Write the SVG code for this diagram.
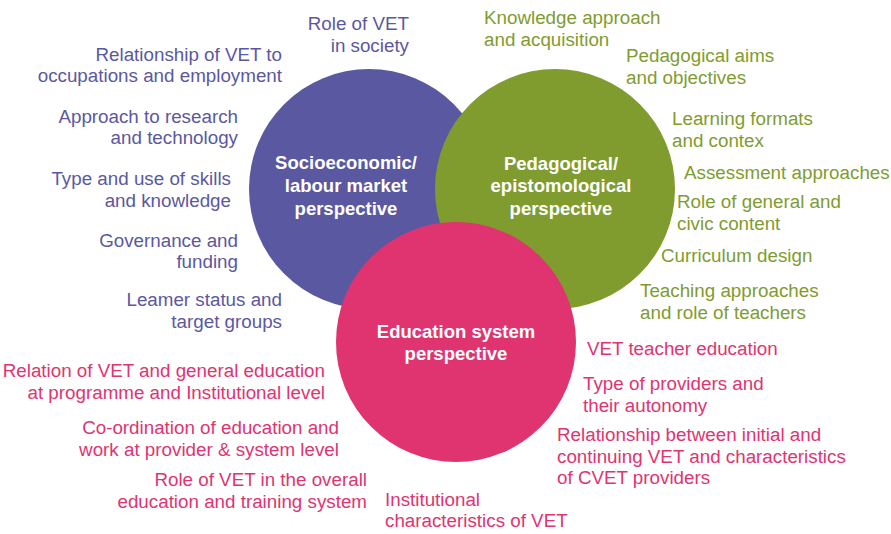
<svg xmlns="http://www.w3.org/2000/svg" width="891" height="534" viewBox="0 0 891 534">
<style>
text{font-family:"Liberation Sans",Arial,sans-serif;font-size:18.8px}
.p{fill:#5b58a2}.g{fill:#809c2f}.k{fill:#e03471}
.r{text-anchor:end}
.w{fill:#ffffff;font-weight:bold;text-anchor:middle;font-size:18.5px}
</style>
<rect width="891" height="534" fill="#ffffff"/>
<g id="socioeconomic">
<circle cx="369" cy="189" r="120" fill="#5b58a2"/>
<text class="w" x="346" y="169">Socioeconomic/</text>
<text class="w" x="346" y="192">labour market</text>
<text class="w" x="346" y="215">perspective</text>
</g>
<g id="pedagogical">
<circle cx="555" cy="189" r="120" fill="#809c2f"/>
<text class="w" x="561" y="170">Pedagogical/</text>
<text class="w" x="561" y="192">epistomological</text>
<text class="w" x="561" y="215">perspective</text>
</g>
<g id="education">
<circle cx="456" cy="342" r="120" fill="#e03471"/>
<text class="w" x="456" y="338">Education system</text>
<text class="w" x="456" y="360">perspective</text>
</g>
<g id="connectors"></g>
<g id="socio-items">
<text class="p r" x="409" y="30">Role of VET</text>
<text class="p r" x="409" y="52">in society</text>
<text class="p r" x="282" y="61">Relationship of VET to</text>
<text class="p r" x="282" y="82">occupations and employment</text>
<text class="p r" x="238" y="123">Approach to research</text>
<text class="p r" x="238" y="144">and technology</text>
<text class="p r" x="231" y="185">Type and use of skills</text>
<text class="p r" x="231" y="207">and knowledge</text>
<text class="p r" x="238" y="247">Governance and</text>
<text class="p r" x="238" y="268">funding</text>
<text class="p r" x="282" y="306">Leamer status and</text>
<text class="p r" x="282" y="328">target groups</text>
</g>
<g id="pedagogical-items">
<text class="g" x="484" y="24">Knowledge approach</text>
<text class="g" x="484" y="46">and acquisition</text>
<text class="g" x="626" y="62">Pedagogical aims</text>
<text class="g" x="626" y="84">and objectives</text>
<text class="g" x="672" y="125">Learning formats</text>
<text class="g" x="672" y="147">and contex</text>
<text class="g" x="684" y="179">Assessment approaches</text>
<text class="g" x="677" y="208">Role of general and</text>
<text class="g" x="677" y="230">civic content</text>
<text class="g" x="661" y="262">Curriculum design</text>
<text class="g" x="640" y="297">Teaching approaches</text>
<text class="g" x="640" y="319">and role of teachers</text>
</g>
<g id="education-items">
<text class="k r" x="325" y="377">Relation of VET and general education</text>
<text class="k r" x="325" y="399">at programme and Institutional level</text>
<text class="k r" x="339" y="434">Co-ordination of education and</text>
<text class="k r" x="339" y="456">work at provider &amp; system level</text>
<text class="k r" x="367" y="486">Role of VET in the overall</text>
<text class="k r" x="367" y="508">education and training system</text>
<text class="k" x="587" y="355">VET teacher education</text>
<text class="k" x="583" y="390">Type of providers and</text>
<text class="k" x="583" y="412">their autonomy</text>
<text class="k" x="557" y="441">Relationship between initial and</text>
<text class="k" x="557" y="463">continuing VET and characteristics</text>
<text class="k" x="557" y="484">of CVET providers</text>
<text class="k" x="385" y="506">Institutional</text>
<text class="k" x="385" y="527">characteristics of VET</text>
</g>
</svg>
